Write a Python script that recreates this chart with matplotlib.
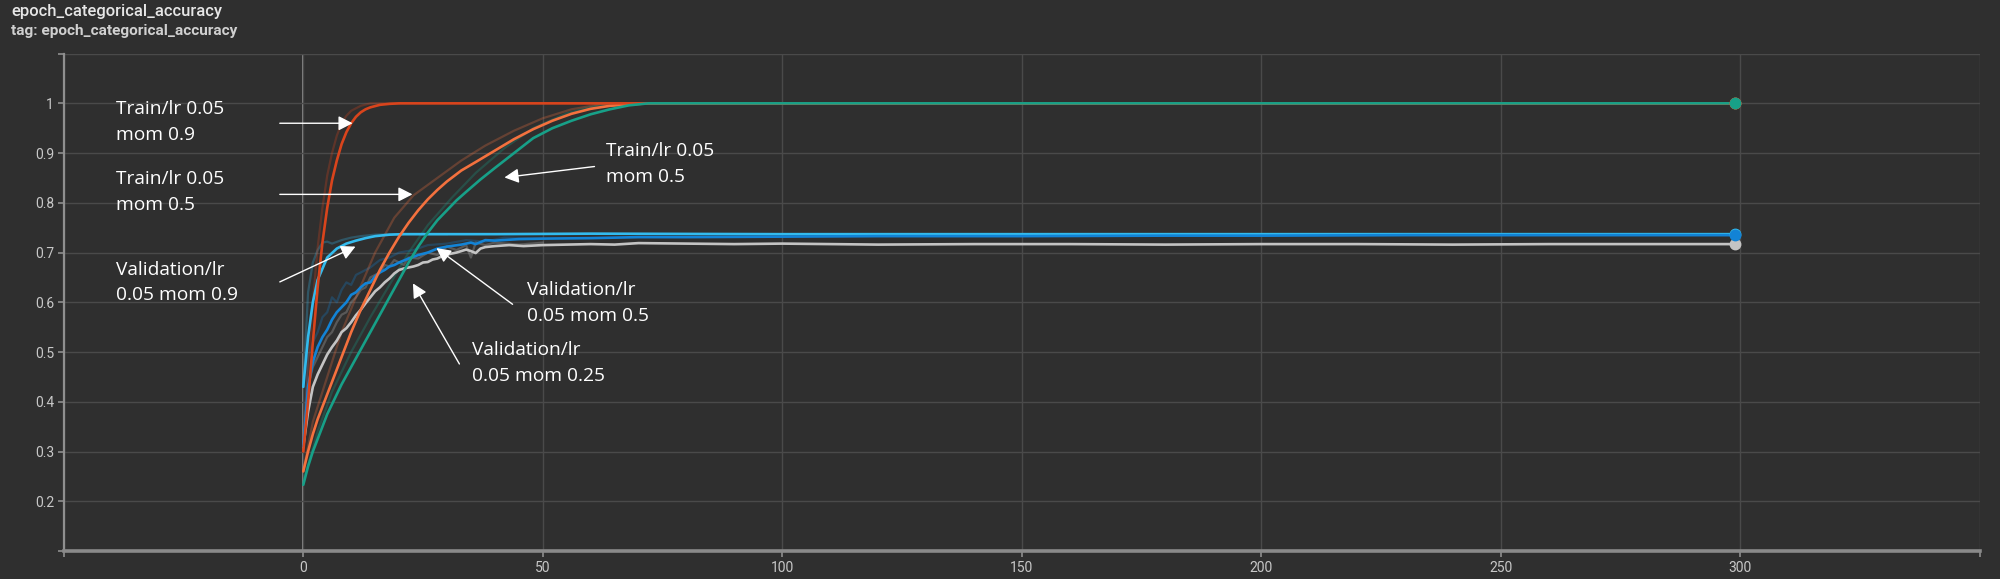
import matplotlib
matplotlib.use("Agg")
import matplotlib.pyplot as plt

# smoothed runs (epoch, accuracy)
train_09_x = [0, 1, 2, 3, 4, 5, 6, 7, 8, 9, 10, 11, 12, 13, 14, 16, 18, 20, 30, 60, 100, 150, 200, 250, 299]
train_09_y = [0.30, 0.40, 0.52, 0.63, 0.72, 0.79, 0.845, 0.885, 0.918, 0.942, 0.96, 0.973, 0.982, 0.988, 0.992,
              0.997, 0.999, 1.0, 1.0, 1.0, 1.0, 1.0, 1.0, 1.0, 1.0]

train_05_x = [0, 1, 2, 3, 4, 5, 6, 7, 8, 10, 12, 14, 16, 18, 20, 22, 24, 26, 28, 30, 33, 36, 40, 44, 48, 52, 56,
              60, 64, 68, 72, 80, 100, 150, 200, 250, 299]
train_05_y = [0.26, 0.30, 0.335, 0.365, 0.39, 0.415, 0.44, 0.465, 0.49, 0.54, 0.585, 0.625, 0.665, 0.70, 0.732,
              0.76, 0.785, 0.807, 0.826, 0.843, 0.865, 0.882, 0.905, 0.928, 0.948, 0.965, 0.979, 0.989, 0.995,
              0.998, 1.0, 1.0, 1.0, 1.0, 1.0, 1.0, 1.0]

train_025_x = [0, 1, 2, 3, 4, 5, 6, 8, 10, 12, 14, 16, 18, 20, 22, 24, 26, 28, 30, 32, 34, 37, 40, 44, 48, 52,
               56, 60, 64, 68, 72, 80, 100, 150, 200, 250, 299]
train_025_y = [0.233, 0.27, 0.30, 0.325, 0.35, 0.375, 0.395, 0.435, 0.47, 0.505, 0.54, 0.575, 0.61, 0.645, 0.68,
               0.712, 0.74, 0.765, 0.785, 0.805, 0.822, 0.847, 0.87, 0.90, 0.93, 0.95, 0.965, 0.978, 0.988,
               0.996, 1.0, 1.0, 1.0, 1.0, 1.0, 1.0, 1.0]

val_09_x = [0, 1, 2, 3, 5, 7, 9, 11, 13, 15, 18, 21, 25, 40, 60, 100, 150, 200, 250, 299]
val_09_y = [0.43, 0.53, 0.60, 0.645, 0.69, 0.708, 0.718, 0.724, 0.729, 0.733, 0.736, 0.737, 0.737, 0.737, 0.738,
            0.737, 0.737, 0.737, 0.737, 0.737]

val_05_x = [0, 1, 2, 3, 4, 5, 6, 7, 8, 9, 10, 11, 12, 13, 14, 15, 16, 17, 18, 19, 20, 22, 24, 26, 28, 30, 33, 35,
            36, 38, 40, 45, 50, 60, 70, 80, 100, 120, 150, 180, 200, 230, 260, 299]
val_05_y = [0.31, 0.43, 0.48, 0.51, 0.53, 0.545, 0.565, 0.58, 0.59, 0.60, 0.615, 0.62, 0.63, 0.638, 0.64, 0.652,
            0.66, 0.665, 0.672, 0.675, 0.68, 0.688, 0.695, 0.70, 0.708, 0.712, 0.716, 0.72, 0.717, 0.725, 0.724,
            0.727, 0.728, 0.729, 0.731, 0.731, 0.732, 0.733, 0.733, 0.734, 0.734, 0.735, 0.735, 0.735]

val_025_x = [0, 1, 2, 3, 4, 5, 6, 7, 8, 9, 10, 11, 12, 13, 14, 15, 16, 17, 18, 19, 20, 21, 22, 23, 24, 25, 26, 27,
             28, 29, 30, 31, 32, 33, 34, 35, 36, 37, 38, 40, 43, 46, 50, 55, 60, 65, 70, 80, 90, 100, 120, 140,
             160, 180, 200, 220, 240, 260, 280, 299]
val_025_y = [0.31, 0.38, 0.43, 0.455, 0.475, 0.495, 0.51, 0.523, 0.54, 0.548, 0.56, 0.574, 0.585, 0.598, 0.61,
             0.622, 0.63, 0.64, 0.648, 0.658, 0.665, 0.668, 0.67, 0.672, 0.675, 0.68, 0.681, 0.686, 0.688, 0.693,
             0.696, 0.698, 0.70, 0.703, 0.706, 0.703, 0.699, 0.708, 0.711, 0.713, 0.715, 0.713, 0.715, 0.716,
             0.717, 0.716, 0.719, 0.718, 0.717, 0.718, 0.716, 0.717, 0.717, 0.716, 0.717, 0.717, 0.716, 0.717,
             0.717, 0.717]

# raw (unsmoothed) traces, drawn faded behind
raw_train_09_x = [0, 1, 2, 3, 4, 5, 6, 7, 8, 9, 10, 12, 14, 20]
raw_train_09_y = [0.32, 0.47, 0.60, 0.71, 0.79, 0.855, 0.90, 0.935, 0.96, 0.975, 0.985, 0.995, 1.0, 1.0]
raw_train_05_x = [0, 2, 5, 8, 11, 15, 19, 23, 28, 33, 38, 44, 50, 56, 62, 70]
raw_train_05_y = [0.26, 0.36, 0.45, 0.54, 0.61, 0.70, 0.77, 0.815, 0.85, 0.885, 0.915, 0.945, 0.97, 0.988, 0.998, 1.0]
raw_train_025_x = [0, 3, 6, 10, 14, 18, 22, 26, 31, 36, 42, 48, 55, 62, 68, 75]
raw_train_025_y = [0.24, 0.34, 0.42, 0.50, 0.57, 0.635, 0.70, 0.755, 0.81, 0.86, 0.91, 0.95, 0.98, 0.997, 1.0, 1.0]
raw_val_09_x = [0, 1, 2, 3, 4, 5, 6, 8, 10, 12, 15, 20, 30]
raw_val_09_y = [0.43, 0.62, 0.68, 0.705, 0.72, 0.722, 0.718, 0.725, 0.73, 0.733, 0.736, 0.737, 0.737]
raw_val_05_x = [0, 1, 2, 3, 4, 5, 6, 7, 8, 9, 10, 11, 12, 14, 16, 18, 20, 23, 26, 30, 34, 38, 42, 50]
raw_val_05_y = [0.31, 0.49, 0.52, 0.54, 0.57, 0.58, 0.61, 0.60, 0.625, 0.64, 0.635, 0.655, 0.66, 0.67, 0.685,
                0.69, 0.70, 0.705, 0.715, 0.718, 0.725, 0.722, 0.73, 0.728]
raw_val_025_x = [0, 1, 2, 3, 4, 5, 6, 7, 8, 9, 10, 11, 12, 13, 14, 15, 16, 17, 18, 19, 20, 21, 22, 24, 26, 28,
                 30, 32, 34, 35, 36, 38, 40, 45, 50]
raw_val_025_y = [0.31, 0.43, 0.47, 0.49, 0.51, 0.53, 0.54, 0.56, 0.575, 0.58, 0.60, 0.61, 0.625, 0.63, 0.65, 0.655,
                 0.66, 0.675, 0.672, 0.685, 0.68, 0.675, 0.69, 0.688, 0.70, 0.695, 0.712, 0.705, 0.715, 0.69, 0.72,
                 0.715, 0.72, 0.716, 0.72]

x_ticks = [-50, 0, 50, 100, 150, 200, 250, 300, 350]
x_labels = ['', '0', '50', '100', '150', '200', '250', '300', '']
y_ticks = [0.1, 0.2, 0.3, 0.4, 0.5, 0.6, 0.7, 0.8, 0.9, 1.0, 1.1]
y_labels = ['', '0.2', '0.3', '0.4', '0.5', '0.6', '0.7', '0.8', '0.9', '1', '']

BG = '#2f2f2f'
c_red = '#d9441c'
c_orange = '#f4713e'
c_teal = '#17a088'
c_cyan = '#33bbee'
c_blue = '#1283d6'
c_grey = '#c4c4c4'

fig = plt.figure(figsize=(20, 5.79), dpi=100, facecolor=BG)
ax = fig.add_axes([0.0319, 0.0484, 0.9579, 0.859], facecolor=BG)

# faded raw data
raw = [(raw_val_025_x, raw_val_025_y, c_grey), (raw_val_09_x, raw_val_09_y, c_cyan),
       (raw_val_05_x, raw_val_05_y, c_blue), (raw_train_05_x, raw_train_05_y, c_orange),
       (raw_train_09_x, raw_train_09_y, c_red), (raw_train_025_x, raw_train_025_y, c_teal)]
for rx, ry, c in raw:
    ax.plot(rx, ry, color=c, lw=1.6, alpha=0.28, zorder=3)

# smoothed runs
runs = [(val_025_x, val_025_y, c_grey), (val_09_x, val_09_y, c_cyan), (val_05_x, val_05_y, c_blue),
        (train_05_x, train_05_y, c_orange), (train_09_x, train_09_y, c_red), (train_025_x, train_025_y, c_teal)]
for sx, sy, c in runs:
    ax.plot(sx, sy, color=c, lw=1.9, zorder=4, solid_capstyle='round', solid_joinstyle='round')
    ax.plot(sx[-1], sy[-1], 'o', color=c, ms=7.5, zorder=5)

ax.set_xlim(-50, 350)
ax.set_ylim(0.1, 1.1)
ax.set_xticks(x_ticks)
ax.set_xticklabels(x_labels)
ax.set_yticks(y_ticks)
ax.set_yticklabels(y_labels)
ax.tick_params(colors='#8f8f8f', labelcolor='#c8c8c8', labelsize=10, length=4.5, width=1.2, pad=2.5)
for lab in ax.get_xticklabels() + ax.get_yticklabels():
    lab.set_family(['Roboto', 'DejaVu Sans'])

ax.grid(True, color='#4a4a4a', lw=1.0, zorder=0)
ax.axvline(0, color='#8a8a8a', lw=1.4, zorder=1)
for s in ['top', 'right']:
    ax.spines[s].set_visible(False)
ax.spines['left'].set_color('#8f8f8f')
ax.spines['left'].set_linewidth(1.6)
ax.spines['bottom'].set_color('#8a8a8a')
ax.spines['bottom'].set_linewidth(2.6)

fig.text(0.0055, 0.981, 'epoch_categorical_accuracy', color='#e6e6e6', fontsize=12,
         family=['Roboto', 'DejaVu Sans'], fontweight='medium', va='center', ha='left')
fig.text(0.0055, 0.946, 'tag: epoch_categorical_accuracy', color='#d0d0d0', fontsize=11.1,
         family=['Roboto', 'DejaVu Sans'], fontweight='bold', va='center', ha='left')

# annotations
ann_font = ['Open Sans', 'DejaVu Sans']
labels = [(-39.1, 0.962, 'Train/lr 0.05\nmom 0.9'),
          (-39.1, 0.822, 'Train/lr 0.05\nmom 0.5'),
          (-39.1, 0.640, 'Validation/lr\n0.05 mom 0.9'),
          (63.3, 0.878, 'Train/lr 0.05\nmom 0.5'),
          (46.8, 0.598, 'Validation/lr\n0.05 mom 0.5'),
          (35.3, 0.478, 'Validation/lr\n0.05 mom 0.25')]
for tx, ty, t in labels:
    ax.text(tx, ty, t, color='white', fontsize=13.8, family=ann_font, va='center', ha='left',
            linespacing=1.55, zorder=6)

arrows = [((-4.9, 0.960), (10.3, 0.960)),
          ((-4.9, 0.817), (22.8, 0.817)),
          ((-4.9, 0.641), (10.9, 0.712)),
          ((60.8, 0.873), (42.0, 0.851)),
          ((43.7, 0.596), (27.8, 0.709)),
          ((32.6, 0.476), (22.9, 0.638))]
for tail, tip in arrows:
    ax.annotate('', xy=tip, xytext=tail, zorder=6,
                arrowprops=dict(arrowstyle='-|>,head_length=0.43,head_width=0.22', color='white',
                                lw=1.0, mutation_scale=20, shrinkA=0, shrinkB=0))

fig.savefig('out.png', dpi=100, facecolor=BG)
